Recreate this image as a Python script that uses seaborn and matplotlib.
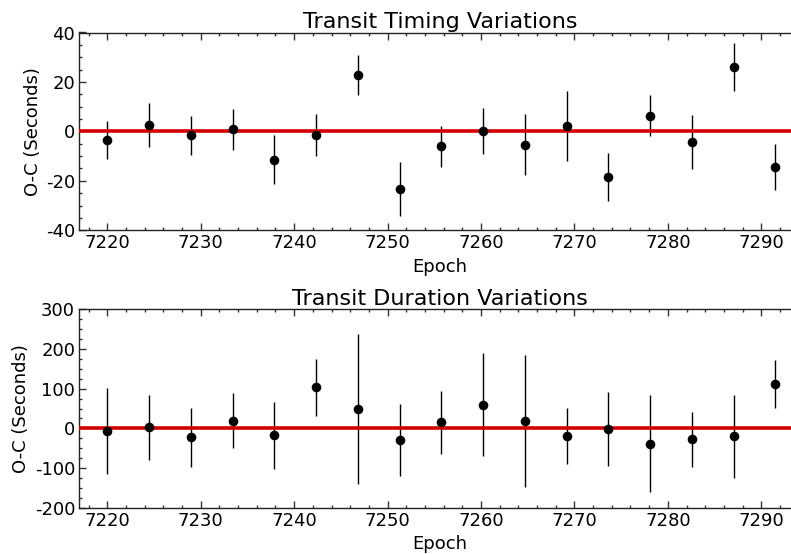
import matplotlib
matplotlib.use("Agg")
import matplotlib.pyplot as plt
from matplotlib.ticker import MultipleLocator
import seaborn as sns
import pandas as pd

# Transit epochs and observed-minus-calculated residuals
epochs = [7220.00, 7224.47, 7228.94, 7233.41, 7237.88, 7242.35, 7246.82, 7251.29,
          7255.76, 7260.23, 7264.70, 7269.17, 7273.64, 7278.11, 7282.58, 7287.05,
          7291.52]

ttv = [-3.4, 2.6, -1.6, 0.9, -11.4, -1.5, 22.9, -23.4,
       -6.1, 0.2, -5.3, 2.3, -18.4, 6.4, -4.3, 26.0, -14.4]
ttv_err = [7.7, 9.0, 7.9, 8.3, 10.0, 8.6, 8.1, 11.0,
           8.4, 9.4, 12.4, 14.1, 9.6, 8.4, 11.0, 9.8, 9.3]

tdv = [-7, 3, -23, 19, -18, 103, 49, -29,
       15, 60, 19, -20, -1, -39, -28, -20, 112]
tdv_err = [108, 82, 75, 69, 85, 72, 190, 90,
           80, 130, 167, 71, 93, 122, 70, 105, 61]

titles = ["Transit Timing Variations", "Transit Duration Variations"]
y_limits = [(-40, 40), (-200, 300)]
y_major = [20, 100]
y_minor = [5, 25]

sns.set_style("ticks")
plt.rcParams["font.family"] = ["DejaVu Sans"]
plt.rcParams["axes.unicode_minus"] = False
plt.rcParams["text.color"] = "black"
plt.rcParams["axes.labelcolor"] = "black"
plt.rcParams["xtick.labelcolor"] = "black"
plt.rcParams["ytick.labelcolor"] = "black"

fig = plt.figure(figsize=(7.91, 5.54), dpi=100)
W, H = 791.0, 554.0
left_px, right_px = 79.3, 800.5
panels = [(32.5, 230.3), (309.3, 507.7)]

series = [(ttv, ttv_err), (tdv, tdv_err)]
for i, ((top_px, bot_px), (vals, errs)) in enumerate(zip(panels, series)):
    ax = fig.add_axes([left_px / W, 1 - bot_px / H,
                       (right_px - left_px) / W, (bot_px - top_px) / H])
    df = pd.DataFrame({"Epoch": epochs, "OC": vals, "err": errs})
    ax.errorbar(df["Epoch"], df["OC"], yerr=df["err"], fmt="none",
                ecolor="black", elinewidth=1.0, capsize=0, zorder=2)
    ax.axhline(0, color="#d40000", lw=2.6, zorder=3)
    sns.scatterplot(data=df, x="Epoch", y="OC", ax=ax, color="black",
                    s=48, edgecolor="black", linewidth=0, zorder=4, legend=False)
    ax.set_xlim(7217, 7294.2)
    ax.set_ylim(*y_limits[i])
    ax.xaxis.set_major_locator(MultipleLocator(10))
    ax.xaxis.set_minor_locator(MultipleLocator(2))
    ax.yaxis.set_major_locator(MultipleLocator(y_major[i]))
    ax.yaxis.set_minor_locator(MultipleLocator(y_minor[i]))
    ax.tick_params(which="both", direction="in", top=True, right=True,
                   labelsize=13, color="#333333", pad=3)
    ax.tick_params(which="major", length=5, width=1)
    ax.tick_params(which="minor", length=2.5, width=1)
    for sp in ax.spines.values():
        sp.set_color("#222222")
        sp.set_linewidth(1.0)
    ax.set_title(titles[i], fontsize=16, pad=3)
    ax.set_xlabel("Epoch", fontsize=13, labelpad=4)
    ax.set_ylabel("O-C (Seconds)", fontsize=13, labelpad=3)

fig.savefig("out.png", dpi=100)
